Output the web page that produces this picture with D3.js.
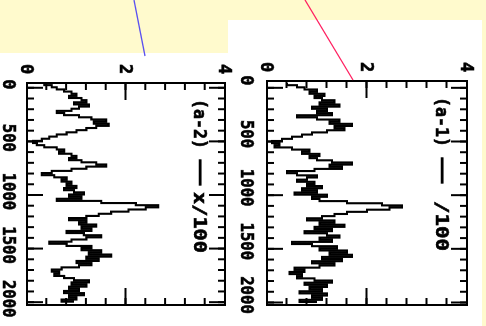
<!DOCTYPE html>
<html lang="en">
<head>
<meta charset="UTF-8">
<title>Rotated traces (a-1), (a-2)</title>
<script src="https://d3js.org/d3.v7.min.js"></script>
<style>
  body { margin: 0; background: #fffacd; }
  svg { display: block; }
  .plot text { font-family: "DejaVu Sans Mono", monospace; font-weight: bold; fill: #000; stroke: #000; stroke-width: 0.6px; }
  .axis path { display: none; }
  .axis line { stroke: #000; stroke-width: 2px; }
</style>
</head>
<body>
<svg width="486" height="326"></svg>
<script>
// data
const xTicks = [0, 500, 1000, 1500, 2000];
const yTicks = [0, 2, 4];
const sampleX = d3.range(-40, 2001, 20); // sample grid of both traces

const traceA2 = [0.35, 0.5,
  0.6, 0.75, 0.9, 1.0, 0.85, 1.1,
  1.2, 0.95, 1.25, 1.05, 0.9,
  0.6, 0.75, 1.05,
  1.3, 1.6, 1.35, 1.65, 1.4, 1.2,
  1.0, 0.8, 0.6, 0.45, 0.3,
  0.12, 0.2,
  0.35, 0.6, 0.75, 0.65, 0.9, 1.0, 0.85,
  1.1, 1.4, 1.6, 1.2,
  0.9, 0.5, 0.3, 0.55, 0.8, 0.7,
  0.9, 0.8, 1.0, 0.75, 0.95,
  1.15, 0.85, 1.1, 0.6,
  1.5, 2.2, 2.65, 2.4, 2.05,
  1.7, 1.45, 1.2,
  0.85, 1.2, 1.05, 1.4, 1.1, 1.3, 0.8, 1.15, 1.5,
  1.2, 0.9, 0.45, 0.8, 1.3,
  1.1, 1.5, 1.25, 1.7, 1.2, 1.45, 1.0, 1.3, 1.05,
  0.7, 0.5, 0.65, 0.55, 0.75,
  0.95, 1.25, 0.9, 1.2, 0.85, 1.05,
  0.75, 1.15, 0.85, 1.0, 0.7, 0.95];

const traceA1 = [0.4, 0.6,
  0.75, 1.0, 0.85,
  1.15, 0.95,
  1.1, 1.35, 1.05, 1.45, 0.9, 1.2, 1.0, 1.3,
  0.6, 1.0,
  1.45, 1.25, 1.7, 1.35, 1.55,
  1.2, 0.9, 0.7, 0.5, 0.3,
  0.1, 0.25, 0.15,
  0.5, 0.85, 0.7, 1.05, 0.85, 1.0,
  1.3, 1.7, 1.25, 1.5, 0.95,
  0.4, 0.6, 1.0, 0.8, 0.6,
  0.95, 0.8, 1.1, 0.7, 1.0,
  0.55, 1.2, 0.9, 1.05,
  1.6, 2.3, 2.7, 2.45, 2.0,
  1.6, 1.35, 1.1,
  0.8, 1.35, 1.05, 1.55, 0.95, 1.3, 0.75, 1.2, 1.45, 1.05,
  1.3, 0.5, 0.9, 1.4,
  1.05, 1.6, 1.25, 1.7, 1.1, 1.5, 0.9, 1.35, 1.05,
  0.55, 0.75, 0.45, 0.7, 0.6,
  0.95, 1.3, 0.75, 1.2, 0.85, 1.1,
  0.65, 1.2, 0.9, 1.1, 0.65, 1.0];

const panelLabels = ["(a-2)", "(a-1)"];
const panelNotes = ["x/100", "/100"];

const svg = d3.select("svg");

// slide background and the two white cut-outs
svg.append("rect").attr("width", 486).attr("height", 326).attr("fill", "#fffacd");
svg.append("rect").attr("x", 0).attr("y", 53).attr("width", 228).attr("height", 273).attr("fill", "#fff");
svg.append("rect").attr("x", 228).attr("y", 20).attr("width", 254).attr("height", 306).attr("fill", "#fff");

const defs = svg.append("defs");
defs.append("filter").attr("id", "soft")
  .append("feGaussianBlur").attr("stdDeviation", 0.35);

// the plots are stored rotated by 90 degrees, so each one is drawn upright and turned
const panels = [
  {values: traceA2, label: panelLabels[0], note: panelNotes[0], noteLen: 61,
   left: 27, right: 225, top: 83, bottom: 305, xDomain: [-40, 2031], labelShift: -3, labelGap: 17.5},
  {values: traceA1, label: panelLabels[1], note: panelNotes[1], noteLen: 50,
   left: 267, right: 467, top: 81, bottom: 305, xDomain: [-59, 2028], labelShift: -7, labelGap: 19.5}
];

panels.forEach(function(p) {
  const W = p.bottom - p.top,
        H = p.right - p.left;
  const x = d3.scaleLinear().domain(p.xDomain).range([0, W]),
        y = d3.scaleLinear().domain([0, 4]).range([H, 0]);

  const g = svg.append("g")
      .attr("class", "plot")
      .attr("filter", "url(#soft)")
      .attr("transform", `translate(${p.right},${p.top}) rotate(90)`);

  const minorX = d3.range(0, 2001, 100),
        minorY = d3.range(0.4, 4, 0.4);

  // ticks on all four sides, pointing inwards
  const axes = [
    [d3.axisBottom(x).tickValues(minorX).tickSize(-7), `translate(0,${H})`],
    [d3.axisBottom(x).tickValues(xTicks).tickSize(-16), `translate(0,${H})`],
    [d3.axisTop(x).tickValues(minorX).tickSize(-7), null],
    [d3.axisTop(x).tickValues(xTicks).tickSize(-16), null],
    [d3.axisLeft(y).tickValues(minorY).tickSize(-7), null],
    [d3.axisLeft(y).tickValues([2]).tickSize(-17), null],
    [d3.axisRight(y).tickValues(minorY).tickSize(-7), `translate(${W},0)`],
    [d3.axisRight(y).tickValues([2]).tickSize(-17), `translate(${W},0)`]
  ];
  axes.forEach(function([ax, tr]) {
    const a = g.append("g").attr("class", "axis").call(ax.tickFormat(""));
    if (tr) a.attr("transform", tr);
  });

  g.append("path")
    .datum(p.values)
    .attr("fill", "none")
    .attr("stroke", "#000")
    .attr("stroke-width", 2.1)
    .attr("d", d3.line()
      .x((d, i) => x(sampleX[i]))
      .y(d => y(d))
      .curve(d3.curveStepAfter));

  g.append("rect")
    .attr("width", W).attr("height", H)
    .attr("fill", "none").attr("stroke", "#000").attr("stroke-width", 2);

  // tick labels
  g.selectAll(".xl").data(xTicks).enter().append("text")
    .attr("x", d => x(d) + p.labelShift)
    .attr("y", H + p.labelGap)
    .attr("dy", "0.36em")
    .attr("text-anchor", "middle")
    .attr("font-size", 17)
    .attr("textLength", d => String(d).length === 1 ? null : String(d).length * 9.4)
    .attr("lengthAdjust", "spacingAndGlyphs")
    .text(d => d);

  g.selectAll(".yl").data(yTicks).enter().append("text")
    .attr("x", -14)
    .attr("y", d => y(d))
    .attr("dy", "0.36em")
    .attr("text-anchor", "middle")
    .attr("font-size", 17)
    .text(d => d);

  // panel tag and note
  g.append("text")
    .attr("x", 16).attr("y", 25).attr("dy", "0.36em")
    .attr("font-size", 17)
    .attr("textLength", 50).attr("lengthAdjust", "spacingAndGlyphs")
    .text(p.label);
  g.append("text")
    .attr("x", 77).attr("y", 24).attr("dy", "0.36em")
    .attr("font-size", 17)
    .attr("textLength", 25).attr("lengthAdjust", "spacingAndGlyphs")
    .text("\u2014");
  g.append("text")
    .attr("x", 170 - p.noteLen).attr("y", 25).attr("dy", "0.36em")
    .attr("font-size", 17)
    .attr("textLength", p.noteLen).attr("lengthAdjust", "spacingAndGlyphs")
    .text(p.note);
});

// pointer lines from the slide above
svg.append("line").attr("x1", 134).attr("y1", 0).attr("x2", 145).attr("y2", 56)
  .attr("stroke", "#5a50f0").attr("stroke-width", 1.3);
svg.append("line").attr("x1", 305).attr("y1", 0).attr("x2", 353).attr("y2", 80)
  .attr("stroke", "#ff2060").attr("stroke-width", 1.3);
</script>
</body>
</html>
